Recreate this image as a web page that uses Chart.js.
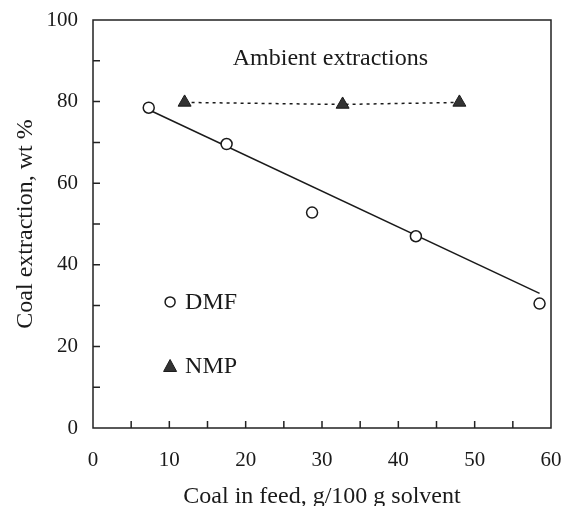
<!DOCTYPE html>
<html>
<head>
<meta charset="utf-8">
<script src="https://cdn.jsdelivr.net/npm/chart.js@4"></script>
<style>
  html, body { margin: 0; padding: 0; background: #fff; }
  #wrap { width: 562px; height: 506px; }
</style>
</head>
<body>
<div id="wrap"><canvas id="myChart" width="562" height="506"></canvas></div>
<script>
// values
const dmfX = [7.3, 17.5, 28.7, 42.3, 58.5];
const dmfY = [78.5, 69.6, 52.8, 47.0, 30.5];
const nmpX = [12.0, 32.7, 48.0];
const nmpY = [79.8, 79.3, 79.8];
const fitX = [7.3, 58.5];
const fitY = [78.0, 33.0];
const xTicks = [0, 10, 20, 30, 40, 50, 60];
const yTicks = [0, 20, 40, 60, 80, 100];

const FONT = "'Liberation Serif', 'DejaVu Serif', serif";
const INK = '#1a1a1a';

const toPoints = (xs, ys) => xs.map((v, i) => ({ x: v, y: ys[i] }));

// box, inward ticks, caption and the little legend
const decor = {
  id: 'decor',
  afterDraw(chart) {
    const { ctx, chartArea: a, scales: { x, y } } = chart;
    ctx.save();
    ctx.strokeStyle = '#222';
    ctx.lineWidth = 1.5;
    ctx.strokeRect(a.left, a.top, a.right - a.left, a.bottom - a.top);

    ctx.beginPath();
    for (let v = 5; v < 60; v += 5) {
      const px = x.getPixelForValue(v);
      ctx.moveTo(px, a.bottom);
      ctx.lineTo(px, a.bottom - 7);
    }
    for (let v = 10; v < 100; v += 10) {
      const py = y.getPixelForValue(v);
      ctx.moveTo(a.left, py);
      ctx.lineTo(a.left + 7, py);
    }
    ctx.stroke();

    ctx.fillStyle = INK;
    ctx.font = '24px ' + FONT;
    ctx.textAlign = 'center';
    ctx.textBaseline = 'middle';
    ctx.fillText('Ambient extractions', x.getPixelForValue(31.1), y.getPixelForValue(90.4));

    // legend
    const lx = x.getPixelForValue(10.1);
    const y1 = y.getPixelForValue(30.9);
    const y2 = y.getPixelForValue(15.2);
    ctx.lineWidth = 1.5;
    ctx.strokeStyle = INK;
    ctx.fillStyle = '#fff';
    ctx.beginPath();
    ctx.arc(lx, y1, 5, 0, Math.PI * 2);
    ctx.fill();
    ctx.stroke();

    ctx.fillStyle = '#333';
    ctx.beginPath();
    ctx.moveTo(lx, y2 - 6.5);
    ctx.lineTo(lx + 6.5, y2 + 5.5);
    ctx.lineTo(lx - 6.5, y2 + 5.5);
    ctx.closePath();
    ctx.fill();
    ctx.lineWidth = 1;
    ctx.stroke();

    ctx.fillStyle = INK;
    ctx.textAlign = 'left';
    ctx.fillText('DMF', lx + 15, y1 + 1);
    ctx.fillText('NMP', lx + 15, y2 + 1);
    ctx.restore();
  }
};

const ctx = document.getElementById('myChart').getContext('2d');
const myChart = new Chart(ctx, {
  type: 'scatter',
  data: {
    datasets: [
      {
        label: 'DMF',
        data: toPoints(dmfX, dmfY),
        pointStyle: 'circle',
        pointRadius: 5.5,
        backgroundColor: '#fff',
        borderColor: INK,
        borderWidth: 1.5
      },
      {
        label: 'NMP',
        data: toPoints(nmpX, nmpY),
        showLine: true,
        borderDash: [3, 4],
        borderColor: INK,
        borderWidth: 1.5,
        pointStyle: 'triangle',
        pointRadius: 7.5,
        pointBackgroundColor: '#333',
        pointBorderColor: INK,
        pointBorderWidth: 1
      },
      {
        label: 'fit',
        data: toPoints(fitX, fitY),
        showLine: true,
        borderColor: INK,
        borderWidth: 1.5,
        pointRadius: 0
      }
    ]
  },
  options: {
    responsive: false,
    animation: false,
    layout: { padding: { top: 20, right: 11, left: 0, bottom: 0 } },
    plugins: { legend: { display: false }, tooltip: { enabled: false } },
    scales: {
      x: {
        type: 'linear',
        min: 0, max: 60,
        afterBuildTicks: s => { s.ticks = xTicks.map(v => ({ value: v })); },
        afterFit: s => { s.height = 78; },
        grid: { display: false, drawTicks: true, tickLength: 20 },
        border: { display: false },
        ticks: { color: INK, font: { family: FONT, size: 21 }, padding: 0, maxRotation: 0 },
        title: { display: true, text: 'Coal in feed, g/100 g solvent', color: INK,
                 font: { family: FONT, size: 24 }, padding: { top: 0, bottom: -5 } }
      },
      y: {
        type: 'linear',
        min: 0, max: 100,
        afterBuildTicks: s => { s.ticks = yTicks.map(v => ({ value: v })); },
        afterFit: s => { s.width = 93; },
        grid: { display: false, drawTicks: true, tickLength: 15 },
        border: { display: false },
        ticks: { color: INK, font: { family: FONT, size: 21 }, padding: 0 },
        title: { display: true, text: 'Coal extraction, wt %', color: INK,
                 font: { family: FONT, size: 24 }, padding: { top: 11, bottom: 0 } }
      }
    }
  },
  plugins: [decor]
});
</script>
</body>
</html>
